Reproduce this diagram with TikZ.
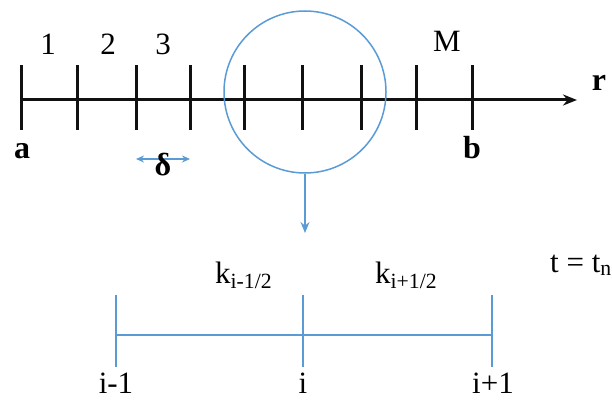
\documentclass[tikz,border=0pt]{standalone}
\usepackage{fontspec}
\setmainfont{Liberation Serif}
\usepackage{tikz}
\usetikzlibrary{arrows.meta,positioning,shapes.geometric}
\definecolor{MeshBlue}{HTML}{5B9BD5}
\definecolor{MeshBlack}{HTML}{111111}
\tikzset{
  axisline/.style={draw=MeshBlack, line width=3pt, -{Stealth[length=14pt, width=11pt]}},
  gridtick/.style={draw=MeshBlack, line width=3pt},
  cellline/.style={draw=MeshBlue, line width=2pt},
  zoomring/.style={draw=MeshBlue, line width=1.5pt, circle, minimum size=162pt, inner sep=0pt},
  zoomwire/.style={draw=MeshBlue, line width=1.5pt, -{Stealth[length=11pt, width=9pt]}},
  stepwire/.style={draw=MeshBlue, line width=1.5pt, {Stealth[length=8pt, width=7pt]}-{Stealth[length=8pt, width=7pt]}},
  txt/.style={font=\fontsize{31}{36}\selectfont\rmfamily, inner sep=0pt, anchor=base},
  boldtxt/.style={txt, font=\fontsize{32}{38}\selectfont\rmfamily\bfseries}
}
\begin{document}
\begin{tikzpicture}[x=1pt, y=-1pt]
  \useasboundingbox (0,0) rectangle (612,401);
  % coarse grid on the r axis
  \foreach \x [count=\n] in {21,77,136,190,244,302,361,416,472}
    \coordinate (t\n) at (\x,100);
  \coordinate (rend) at (577,100);
  \draw[axisline] (t1) -- (rend);
  \foreach \n in {1,...,9}
    \draw[gridtick] ([yshift=35pt]t\n) -- ([yshift=-30pt]t\n);
  \node[txt] (one) at (48,55) {1};
  \node[txt] (two) at (108,55) {2};
  \node[txt] (three) at (163,55) {3};
  \node[txt] (lastcell) at (447,52) {M};
  \node[boldtxt] (aend) at (22,158) {a};
  \node[boldtxt] (bend) at (472,158) {b};
  \node[boldtxt] (rname) at (599,91) {r};
  \draw[stepwire] ([yshift=-59pt]t3) -- ([yshift=-59pt]t4);
  \node[boldtxt] (delta) at (163,175) {δ};
  % magnified cell
  \node[zoomring] (zoom) at (305,92) {};
  \coordinate (zoomend) at (305,233);
  \draw[zoomwire] (zoom.south) -- (zoomend);
  \coordinate (im1) at (116,335);
  \coordinate (ic) at (303,335);
  \coordinate (ip1) at (492,335);
  \draw[cellline] (im1) -- (ic) -- (ip1);
  \foreach \c in {im1,ic,ip1}
    \draw[cellline] ([yshift=40pt]\c) -- ([yshift=-32pt]\c);
  \node[txt, anchor=base west] (kleft) at (215,283) {k\textsubscript{i-1/2}};
  \node[txt, anchor=base west] (kright) at (375,283) {k\textsubscript{i+1/2}};
  \node[txt] (lim1) at (116,393) {i-1};
  \node[txt] (lic) at (303,393) {i};
  \node[txt] (lip1) at (493,393) {i+1};
  \node[txt, anchor=base west] (time) at (550,272) {t = t\textsubscript{n}};
\end{tikzpicture}
\end{document}
